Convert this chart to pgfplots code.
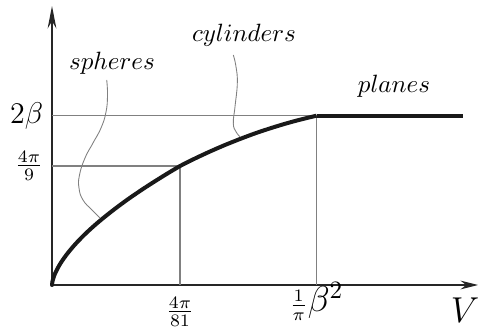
\documentclass[border=0pt]{standalone}
\usepackage{pgfplots}
\pgfplotsset{compat=1.18}
\usetikzlibrary{arrows.meta}
\begin{document}
\begin{tikzpicture}
\begin{axis}[
    x=0.4pt, y=0.4pt,
    xmin=0, xmax=426,
    ymin=0, ymax=279,
    axis lines=left,
    axis line style={black!85, line width=0.5pt},
    x axis line style={-{Stealth[length=7pt,width=3.5pt]}},
    y axis line style={-{Stealth[length=9pt,width=3.5pt]}},
    xtick={128,264.5},
    xticklabels={$\frac{4\pi}{81}$, {\raisebox{2.6pt}{$\frac{1}{\pi}${\Large$\beta^{2}$}}}},
    xticklabel style={anchor=base, yshift=-13.2pt},
    ytick={119,169.3},
    yticklabels={$\frac{4\pi}{9}$, {\fontsize{13}{15}\selectfont$2\beta$}},
    major tick length=0pt,
    clip=false,
]
% guide lines
\addplot[gray, line width=0.45pt] coordinates {(0,169.3) (264.5,169.3)};
\addplot[gray, line width=0.45pt] coordinates {(0,119) (128,119)};
\addplot[gray, line width=0.45pt] coordinates {(128,0) (128,119)};
\addplot[gray, line width=0.45pt] coordinates {(264.5,0) (264.5,169.3)};

% spheres
\addplot[black!90, line width=1.6pt, smooth, tension=0.5, line cap=round] coordinates {
    (0,0) (0.5,3.7) (1.5,7.3) (3,11.3) (6,17.4) (10,24.0) (16,32.2) (24,41.6)
    (34,51.8) (46,62.6) (60,73.9) (76,85.8) (94,98.0) (112,109.4) (128,119)
};
% cylinders
\addplot[black!90, line width=1.6pt, smooth, tension=0.5] coordinates {
    (128,119) (143,126.5) (158,133.5) (173,140.0) (188,146.0) (203,151.6)
    (218,156.6) (233,161.2) (248,165.3) (264.5,169.3)
};
% planes
\addplot[black!90, line width=1.6pt] coordinates {(264.5,169.3) (410.7,169.3)};

% leader lines
\draw[gray, line width=0.35pt] plot[smooth, tension=0.8] coordinates {
    (axis cs:54.7,205) (axis cs:55.5,190) (axis cs:54,173) (axis cs:49,157)
    (axis cs:41,142) (axis cs:33,127) (axis cs:27.5,110) (axis cs:27,97)
    (axis cs:31,85) (axis cs:40,75) (axis cs:48,67)};
\draw[gray, line width=0.35pt] plot[smooth, tension=0.8] coordinates {
    (axis cs:181.3,230) (axis cs:184,218.3) (axis cs:185.3,201.7) (axis cs:183,178.3)
    (axis cs:181.3,161.7) (axis cs:184,153.3) (axis cs:188,148.3)};

\node at (axis cs:60,222) {$spheres$};
\node at (axis cs:192,250) {$cylinders$};
\node at (axis cs:342,199) {$planes$};
\node[font=\Large] at (axis cs:413,-25) {$V$};

\coordinate (bbll) at (axis cs:-52,-46);
\coordinate (bbur) at (axis cs:426,285);
\end{axis}
\pgfresetboundingbox
\path (bbll) rectangle (bbur);
\end{tikzpicture}
\end{document}
